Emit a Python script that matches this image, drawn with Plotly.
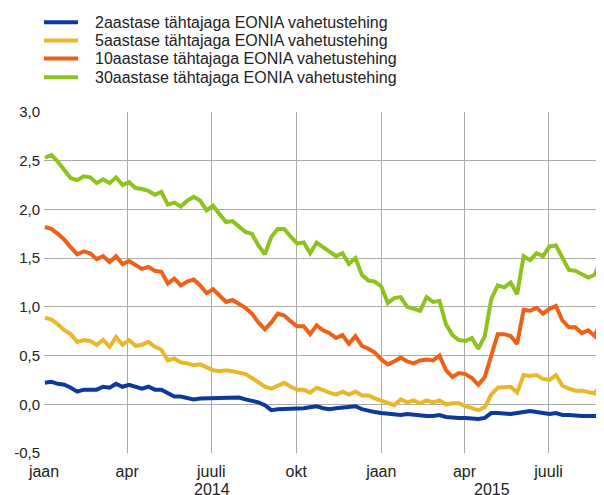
import pandas as pd
import plotly.graph_objects as go

# weekly observations, Thursday 2 Jan 2014 -> 27 Aug 2015
dates = pd.date_range('2014-01-02', periods=87, freq='7D')

eonia_2y = [0.22, 0.23, 0.21, 0.20, 0.17, 0.13, 0.15, 0.15, 0.15, 0.18,
            0.17, 0.21, 0.18, 0.20, 0.18, 0.16, 0.18, 0.15, 0.15, 0.11,
            0.08, 0.08, 0.06, 0.05, 0.06, 0.06, 0.06, 0.06, 0.07, 0.07,
            0.07, 0.05, 0.04, 0.02, -0.01, -0.06, -0.05, -0.05, -0.05, -0.04,
            -0.04, -0.03, -0.02, -0.04, -0.05, -0.04, -0.03, -0.02, -0.02, -0.05,
            -0.07, -0.08, -0.09, -0.10, -0.11, -0.11, -0.10, -0.11, -0.11, -0.12,
            -0.12, -0.11, -0.13, -0.14, -0.14, -0.14, -0.15, -0.15, -0.14, -0.09,
            -0.09, -0.10, -0.10, -0.09, -0.08, -0.07, -0.08, -0.09, -0.10, -0.09,
            -0.11, -0.11, -0.12, -0.12, -0.12, -0.12, -0.12]

eonia_5y = [0.89, 0.87, 0.82, 0.76, 0.72, 0.64, 0.66, 0.65, 0.61, 0.66,
            0.59, 0.69, 0.61, 0.66, 0.60, 0.61, 0.64, 0.59, 0.56, 0.45,
            0.47, 0.43, 0.42, 0.40, 0.41, 0.38, 0.35, 0.34, 0.35, 0.34,
            0.33, 0.31, 0.27, 0.23, 0.18, 0.16, 0.19, 0.22, 0.18, 0.15,
            0.15, 0.12, 0.17, 0.14, 0.12, 0.10, 0.13, 0.10, 0.13, 0.09,
            0.09, 0.06, 0.04, 0.02, -0.01, 0.05, 0.02, 0.04, 0.01, 0.04,
            0.02, 0.04, 0.00, 0.01, 0.01, -0.02, -0.04, -0.06, -0.03, 0.10,
            0.17, 0.17, 0.18, 0.12, 0.30, 0.29, 0.30, 0.26, 0.25, 0.30,
            0.19, 0.16, 0.14, 0.14, 0.12, 0.11, 0.22]

eonia_10y = [1.82, 1.80, 1.75, 1.69, 1.61, 1.54, 1.57, 1.55, 1.49, 1.52,
             1.46, 1.52, 1.44, 1.47, 1.43, 1.39, 1.41, 1.37, 1.36, 1.24,
             1.29, 1.22, 1.26, 1.28, 1.22, 1.14, 1.18, 1.11, 1.05, 1.07,
             1.03, 0.99, 0.93, 0.84, 0.77, 0.84, 0.93, 0.91, 0.85, 0.80,
             0.80, 0.72, 0.81, 0.76, 0.73, 0.68, 0.71, 0.62, 0.70, 0.60,
             0.57, 0.53, 0.46, 0.41, 0.44, 0.48, 0.44, 0.42, 0.45, 0.46,
             0.45, 0.50, 0.35, 0.28, 0.32, 0.31, 0.27, 0.20, 0.28, 0.50,
             0.72, 0.72, 0.70, 0.62, 0.97, 0.96, 0.99, 0.93, 0.98, 1.01,
             0.86, 0.79, 0.79, 0.73, 0.76, 0.70, 0.87]

eonia_30y = [2.53, 2.56, 2.49, 2.41, 2.32, 2.30, 2.34, 2.33, 2.27, 2.31,
             2.27, 2.33, 2.25, 2.28, 2.22, 2.21, 2.19, 2.15, 2.18, 2.05,
             2.07, 2.03, 2.09, 2.13, 2.09, 1.99, 2.04, 1.95, 1.87, 1.88,
             1.82, 1.77, 1.75, 1.63, 1.54, 1.72, 1.80, 1.80, 1.72, 1.65,
             1.66, 1.55, 1.66, 1.61, 1.57, 1.52, 1.55, 1.44, 1.50, 1.33,
             1.27, 1.26, 1.21, 1.04, 1.09, 1.10, 1.00, 0.98, 0.96, 1.10,
             1.05, 1.06, 0.82, 0.71, 0.66, 0.65, 0.68, 0.57, 0.70, 1.08,
             1.22, 1.20, 1.25, 1.13, 1.52, 1.48, 1.55, 1.52, 1.62, 1.63,
             1.50, 1.38, 1.37, 1.33, 1.30, 1.33, 1.49]

names = ['2aastase tähtajaga EONIA vahetustehing',
         '5aastase tähtajaga EONIA vahetustehing',
         '10aastase tähtajaga EONIA vahetustehing',
         '30aastase tähtajaga EONIA vahetustehing']
colors = ['#0B3A9C', '#E8B82A', '#EE6018', '#8EC21F']

month_ticks = ['2014-01-01', '2014-04-01', '2014-07-01', '2014-10-01',
               '2015-01-01', '2015-04-01', '2015-07-01']
month_labels = ['jaan', 'apr', 'juuli', 'okt', 'jaan', 'apr', 'juuli']
y_ticks = [-0.5, 0, 0.5, 1.0, 1.5, 2.0, 2.5, 3.0]
y_labels = ['-0,5', '0,0', '0,5', '1,0', '1,5', '2,0', '2,5', '3,0']

fig = go.Figure()
for name, vals, col in zip(names, [eonia_2y, eonia_5y, eonia_10y, eonia_30y], colors):
    fig.add_trace(go.Scatter(x=dates, y=vals, mode='lines', name=name,
                             line=dict(color=col, width=4)))

# page body has an 8px margin, so the figure is 8px smaller on each side
fig.update_layout(
    width=596, height=487,
    margin=dict(l=36, r=0, t=104, b=42, autoexpand=False),
    paper_bgcolor='white', plot_bgcolor='white',
    font=dict(family='Liberation Sans, Arial, sans-serif', size=16, color='#222'),
    showlegend=False,
)
fig.update_xaxes(range=['2014-01-01', '2015-08-30'], tickmode='array',
                 tickvals=month_ticks, ticktext=month_labels,
                 tickfont=dict(size=16), ticklabelstandoff=7,
                 showgrid=True, gridcolor='#ABABAB', gridwidth=1,
                 zeroline=False, showline=False, ticks='', automargin=False)
fig.update_yaxes(range=[-0.5, 3.0], tickmode='array',
                 tickvals=y_ticks, ticktext=y_labels,
                 tickfont=dict(size=15), ticklabelstandoff=3,
                 showgrid=True, gridcolor='#ABABAB', gridwidth=1,
                 zeroline=False, showline=False, ticks='', automargin=False)

# legend drawn by hand so the key line / text gap matches
leg_y = [1.263, 1.210, 1.157, 1.102]
for name, col, ly in zip(names, colors, leg_y):
    fig.add_shape(type='line', xref='paper', yref='paper',
                  x0=0.0, x1=0.0607, y0=ly, y1=ly,
                  line=dict(color=col, width=4))
    fig.add_annotation(x=0.0875, y=ly, xref='paper', yref='paper', text=name,
                       showarrow=False, xanchor='left', yanchor='middle',
                       font=dict(size=16))

for yr, mid in [('2014', '2014-07-02'), ('2015', '2015-05-01')]:
    fig.add_annotation(x=mid, y=-0.107, xref='x', yref='paper', text=yr,
                       showarrow=False, yanchor='middle', font=dict(size=16))

fig.write_html('out.html')
